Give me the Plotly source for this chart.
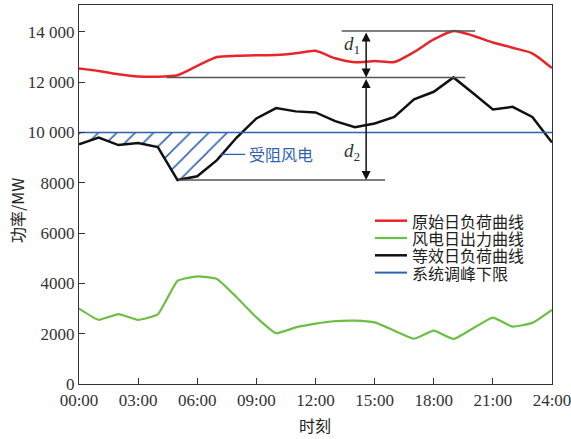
import numpy as np
import plotly.graph_objects as go

hours = list(range(25))
tick_hours = [0, 3, 6, 9, 12, 15, 18, 21, 24]
tick_text = ["00:00", "03:00", "06:00", "09:00", "12:00", "15:00", "18:00", "21:00", "24:00"]
y_tickvals = [0, 2000, 4000, 6000, 8000, 10000, 12000, 14000]
y_ticktext = ["0", "2000", "4000", "6000", "8000", "10 000", "12 000", "14 000"]

original_load = [12550, 12450, 12320, 12230, 12220, 12280, 12650, 13000, 13050, 13070, 13080, 13150,
                 13250, 12950, 12790, 12840, 12800, 13200, 13700, 14040, 13850, 13580, 13370, 13150, 12560]
wind_output = [3000, 2550, 2780, 2550, 2770, 4100, 4280, 4180, 3450, 2650, 2020, 2250,
               2400, 2500, 2520, 2450, 2120, 1800, 2120, 1790, 2220, 2640, 2280, 2430, 2950]
equivalent_load = [9530, 9800, 9500, 9580, 9420, 8110, 8260, 8900, 9800, 10560, 10970, 10840,
                   10800, 10450, 10210, 10360, 10620, 11320, 11620, 12190, 11560, 10920, 11020, 10620, 9600]
peak_limit = 10000

names = ["原始日负荷曲线", "风电日出力曲线", "等效日负荷曲线", "系统调峰下限"]
colors = ["#e8262a", "#6cbf45", "#111111", "#2e62b0"]
widths = [2.5, 2.2, 2.5, 1.3]

# curtailed wind region (equivalent load below the peak-shaving limit, morning part)
eq = np.array(equivalent_load, dtype=float)
hx = np.array(hours, dtype=float)
k = 8
x_cross = hx[k] + (peak_limit - eq[k]) / (eq[k + 1] - eq[k]) * (hx[k + 1] - hx[k])
fill_x = list(hx[:k + 1]) + [x_cross]
fill_y = list(eq[:k + 1]) + [peak_limit]

fig = go.Figure()
fig.add_trace(go.Scatter(x=fill_x, y=[peak_limit] * len(fill_x), mode="lines",
                         line=dict(width=0), showlegend=False, hoverinfo="skip"))
fig.add_trace(go.Scatter(x=fill_x, y=fill_y, mode="lines", line=dict(width=0),
                         fill="tonexty", fillcolor="rgba(0,0,0,0)",
                         fillpattern=dict(shape="/", fgcolor=colors[3], bgcolor="rgba(0,0,0,0)",
                                          fgopacity=1, size=13, solidity=0.12),
                         showlegend=False, hoverinfo="skip"))

fig.add_trace(go.Scatter(x=hours, y=original_load, mode="lines", name=names[0], showlegend=False,
                         line=dict(color=colors[0], width=widths[0], shape="spline", smoothing=0.6)))
fig.add_trace(go.Scatter(x=hours, y=wind_output, mode="lines", name=names[1], showlegend=False,
                         line=dict(color=colors[1], width=widths[1], shape="spline", smoothing=0.4)))
fig.add_trace(go.Scatter(x=hours, y=equivalent_load, mode="lines", name=names[2], showlegend=False,
                         line=dict(color=colors[2], width=widths[2])))
fig.add_trace(go.Scatter(x=[0, 24], y=[peak_limit, peak_limit], mode="lines", name=names[3],
                         showlegend=False, line=dict(color=colors[3], width=widths[3])))

red_max = max(original_load)
blk_max = max(equivalent_load)
blk_min = min(equivalent_load)
gray = "#555555"
for (x0, x1, yv) in [(13.33, 20.1, red_max), (4.45, 19.6, blk_max), (5.04, 15.53, blk_min)]:
    fig.add_shape(type="line", x0=x0, x1=x1, y0=yv, y1=yv, xref="x", yref="y",
                  line=dict(color=gray, width=1.5))

arrow_x = 14.57
for (ya, yb) in [(red_max, blk_max), (blk_max, blk_min)]:
    fig.add_annotation(x=arrow_x, y=yb, ax=arrow_x, ay=ya, xref="x", yref="y", axref="x", ayref="y",
                       showarrow=True, arrowhead=2, arrowside="end+start", arrowsize=1.2,
                       arrowwidth=1.5, arrowcolor="#111111", text="")

fig.add_annotation(x=13.84, y=13480, text="<i>d</i><sub>1</sub>", showarrow=False,
                   font=dict(family="Liberation Serif", size=19, color="#333"))
fig.add_annotation(x=13.84, y=9230, text="<i>d</i><sub>2</sub>", showarrow=False,
                   font=dict(family="Liberation Serif", size=19, color="#333"))

# curtailed wind label
fig.add_shape(type="line", x0=7.16, x1=8.43, y0=9130, y1=9130, xref="x", yref="y",
              line=dict(color=colors[3], width=1.3))
fig.add_annotation(x=8.5, y=9130, text="受阻风电", showarrow=False, xanchor="left",
                   font=dict(family="Noto Sans CJK SC", size=16, color=colors[3]))

# legend (drawn compactly, as in the reference)
PW, PH = 473.0, 379.0
leg_x0, leg_x1, leg_tx = (375 - 79) / PW, (407 - 79) / PW, (410 - 79) / PW
for i, (nm, c, w) in enumerate(zip(names, colors, widths)):
    yy = (384 - (220.7 + 17.3 * i)) / PH
    fig.add_shape(type="line", xref="paper", yref="paper", x0=leg_x0, x1=leg_x1, y0=yy, y1=yy,
                  line=dict(color=c, width=max(w, 2.0)))
    fig.add_annotation(xref="paper", yref="paper", x=leg_tx, y=yy, text=nm, showarrow=False,
                       xanchor="left", yanchor="middle",
                       font=dict(family="Noto Sans CJK SC", size=16, color="#222"))

# axis titles
fig.add_annotation(xref="paper", yref="paper", x=(17 - 79) / PW, y=(384 - 210) / PH, text="功率/MW",
                   textangle=-90, xanchor="center", yanchor="middle",
                   showarrow=False, font=dict(family="Noto Sans CJK SC", size=16, color="#222"))
fig.add_annotation(xref="paper", yref="paper", x=(315 - 79) / PW, y=(384 - 425) / PH, text="时刻",
                   xanchor="center", yanchor="middle",
                   showarrow=False, font=dict(family="Noto Sans CJK SC", size=16, color="#222"))

axis_common = dict(showline=True, linecolor="#333", linewidth=1.3, mirror=True,
                   ticks="inside", ticklen=6, tickcolor="#333", showgrid=False, zeroline=False,
                   automargin=False, ticklabeloverflow="allow",
                   tickfont=dict(family="Liberation Serif", size=17, color="#333"))
fig.update_xaxes(range=[0, 24], tickvals=tick_hours, ticktext=tick_text, **axis_common)
fig.update_yaxes(range=[0, 15070], tickvals=y_tickvals, ticktext=y_ticktext, **axis_common)

fig.update_layout(
    width=571, height=439,
    margin=dict(l=79, r=19, t=5, b=55, autoexpand=False),
    plot_bgcolor="white", paper_bgcolor="white",
    showlegend=False,
)

fig.write_html("out.html", config={"displayModeBar": False},
               post_script="document.body.style.margin='0';")
